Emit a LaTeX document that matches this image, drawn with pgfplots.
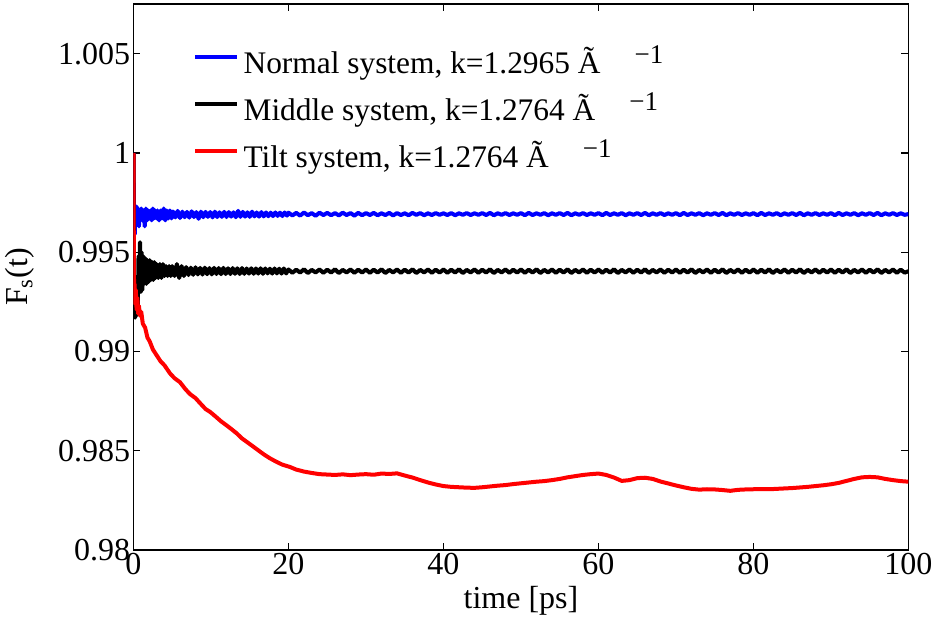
\documentclass[border=0pt]{standalone}
\usepackage{fontspec}
\setmainfont{Liberation Serif}
\usepackage{pgfplots}
\pgfplotsset{compat=1.18}
% inverse-angstrom exponent as set in the legend entries
\newcommand{\invA}{\hspace{17pt}\raisebox{5pt}{\fontsize{13.5}{15}\selectfont −1}\rule{0pt}{17.7pt}}
\begin{document}
\begin{tikzpicture}
\begin{axis}[
  scale only axis, width=387.5pt, height=273pt,
  xmin=0, xmax=100, ymin=0.98, ymax=1.0075,
  xtick={0,20,40,60,80,100}, xticklabels={0,20,40,60,80,100},
  ytick={0.98,0.985,0.99,0.995,1,1.005},
  yticklabels={0.98,0.985,0.99,0.995,1,1.005},
  tick align=inside, major tick length=3.5pt,
  tick style={line width=0.6pt, black},
  axis line style={line width=0.75pt},
  ticklabel style={font=\fontsize{16}{19}\selectfont, inner sep=1.5pt},
  label style={font=\fontsize{16}{19}\selectfont},
  xlabel={time [ps]}, ylabel={F\textsubscript{s}(t)},
  xlabel style={at={(axis description cs:0.5,-0.1075)}, anchor=base},
  ylabel style={at={(axis description cs:-0.147,0.5)}, anchor=center},
  legend style={draw=none, fill=none, inner sep=0pt,
    at={(axis description cs:0,1)}, anchor=north west,
    xshift=29.65pt, yshift=-16.95pt,
    font=\fontsize{15.7}{18}\selectfont,
    nodes={inner sep=0pt}, row sep=4.15pt, column sep=2.2pt},
  legend cell align=left,
  legend image code/.code={\draw[#1, line width=2pt] (0pt,0pt) -- (21pt,0pt);},
  every axis plot/.append style={line width=2pt, line join=round},
]
% Normal system
\addplot[blue] coordinates {
(0,1.0) (0.08,0.9963) (0.16,0.9959) (0.24,0.9972) (0.32,0.9966) (0.4,0.9973) (0.5,0.9965) (0.6,0.9972) (0.7,0.9963) (0.8,0.9971)
(0.9,0.9966) (1.0,0.9972) (1.15,0.9966) (1.3,0.9971) (1.45,0.9963) (1.6,0.9972) (1.75,0.9966) (1.9,0.9971) (2.05,0.9967) (2.2,0.9971)
(2.35,0.9966) (2.5,0.9972) (2.65,0.9967) (2.8,0.9971) (2.95,0.9967) (3.1,0.9971) (3.3,0.9966) (3.5,0.9971) (3.7,0.9967) (3.9,0.9972)
(4.1,0.9966) (4.3,0.9971) (4.5,0.9967) (4.7,0.9971) (4.9,0.9967)
(5.1,0.99705) (5.4,0.99675) (5.7,0.99708) (6.0,0.99672) (6.3,0.99704) (6.6,0.99676) (6.9,0.99703) (7.2,0.99674) (7.5,0.99706) (7.8,0.99677)
(8.1,0.99702) (8.4,0.99668) (8.7,0.99704) (9.0,0.99676) (9.3,0.99703) (9.6,0.99678) (9.9,0.99702) (10.2,0.99675) (10.5,0.99704) (10.8,0.99677)
(11.1,0.99701) (11.4,0.99678) (11.7,0.99703) (12.0,0.99677) (12.3,0.99702) (12.6,0.99679) (12.9,0.99701) (13.2,0.99676) (13.5,0.99708) (13.8,0.99678)
(14.1,0.99703) (14.4,0.99679) (14.7,0.99701) (15.0,0.99678) (15.3,0.99704) (15.6,0.99680) (15.9,0.99700) (16.2,0.99679) (16.5,0.99702) (16.8,0.99680)
(17.1,0.99700) (17.4,0.99681) (17.7,0.99699) (18.0,0.99682) (18.3,0.99700) (18.6,0.99683) (18.9,0.99699) (19.2,0.99682) (19.5,0.99700) (19.8,0.99684)
(20.0,0.99699) (20.5,0.99685) (21.0,0.99698) (21.5,0.99684) (22.0,0.99700) (22.5,0.99686) (23.0,0.99697) (23.5,0.99683) (24.0,0.99699) (24.5,0.99687)
(25.0,0.99698) (25.5,0.99686) (26.0,0.99697) (26.5,0.99685) (27.0,0.99699) (27.5,0.99687) (28.0,0.99697) (28.5,0.99684) (29.0,0.99698) (29.5,0.99686)
(30.0,0.99697) (30.5,0.99687) (31.0,0.99698) (31.5,0.99686) (32.0,0.99696) (32.5,0.99687) (33.0,0.99698) (33.5,0.99685) (34.0,0.99697) (34.5,0.99687)
(35.0,0.99696) (35.5,0.99686) (36.0,0.99698) (36.5,0.99688) (37.0,0.99697) (37.5,0.99686) (38.0,0.99696) (38.5,0.99687) (39.0,0.99697) (39.5,0.99688)
(40.0,0.99696) (40.5,0.99687) (41.0,0.99697) (41.5,0.99686) (42.0,0.99696) (42.5,0.99688) (43.0,0.99697) (43.5,0.99687) (44.0,0.99696) (44.5,0.99688)
(45.0,0.99697) (45.5,0.99687) (46.0,0.99698) (46.5,0.99686) (47.0,0.99696) (47.5,0.99688) (48.0,0.99697) (48.5,0.99687) (49.0,0.99696) (49.5,0.99688)
(50.0,0.99697) (50.5,0.99686) (51.0,0.99698) (51.5,0.99687) (52.0,0.99696) (52.5,0.99688) (53.0,0.99697) (53.5,0.99686) (54.0,0.99696) (54.5,0.99688)
(55.0,0.99697) (55.5,0.99687) (56.0,0.99698) (56.5,0.99686) (57.0,0.99696) (57.5,0.99688) (58.0,0.99697) (58.5,0.99687) (59.0,0.99696) (59.5,0.99688)
(60.0,0.99697) (60.5,0.99686) (61.0,0.99698) (61.5,0.99687) (62.0,0.99696) (62.5,0.99688) (63.0,0.99697) (63.5,0.99686) (64.0,0.99696) (64.5,0.99688)
(65.0,0.99697) (65.5,0.99687) (66.0,0.99698) (66.5,0.99686) (67.0,0.99696) (67.5,0.99688) (68.0,0.99697) (68.5,0.99687) (69.0,0.99696) (69.5,0.99688)
(70.0,0.99697) (70.5,0.99686) (71.0,0.99698) (71.5,0.99687) (72.0,0.99696) (72.5,0.99688) (73.0,0.99697) (73.5,0.99686) (74.0,0.99696) (74.5,0.99688)
(75.0,0.99697) (75.5,0.99687) (76.0,0.99698) (76.5,0.99686) (77.0,0.99696) (77.5,0.99688) (78.0,0.99697) (78.5,0.99687) (79.0,0.99696) (79.5,0.99688)
(80.0,0.99697) (80.5,0.99686) (81.0,0.99698) (81.5,0.99687) (82.0,0.99696) (82.5,0.99688) (83.0,0.99697) (83.5,0.99686) (84.0,0.99696) (84.5,0.99688)
(85.0,0.99697) (85.5,0.99687) (86.0,0.99698) (86.5,0.99686) (87.0,0.99696) (87.5,0.99688) (88.0,0.99697) (88.5,0.99687) (89.0,0.99696) (89.5,0.99688)
(90.0,0.99697) (90.5,0.99686) (91.0,0.99698) (91.5,0.99687) (92.0,0.99696) (92.5,0.99688) (93.0,0.99697) (93.5,0.99686) (94.0,0.99696) (94.5,0.99688)
(95.0,0.99697) (95.5,0.99687) (96.0,0.99698) (96.5,0.99686) (97.0,0.99696) (97.5,0.99688) (98.0,0.99697) (98.5,0.99687) (99.0,0.99696) (99.5,0.99688)
(100,0.99692)
};
\addlegendentry{Normal system, k=1.2965 Ã\invA}
% Middle system
\addplot[black] coordinates {
(0,1.0) (0.06,0.9930) (0.12,0.9920) (0.2,0.9917) (0.28,0.9925) (0.36,0.9918) (0.45,0.9935) (0.55,0.9922) (0.65,0.9948) (0.75,0.9932)
(0.84,0.9955) (0.95,0.9930) (1.05,0.9950) (1.15,0.9931) (1.25,0.9948) (1.35,0.9934) (1.5,0.9947) (1.65,0.9934) (1.8,0.9946) (1.95,0.9935)
(2.1,0.9946) (2.25,0.9936) (2.4,0.9945) (2.55,0.9936) (2.7,0.9945) (2.85,0.9937) (3.0,0.9944) (3.2,0.9937) (3.4,0.9944) (3.6,0.9937)
(3.8,0.9944) (4.0,0.9938) (4.2,0.9943) (4.4,0.9938) (4.6,0.9943) (4.8,0.9938) (5.0,0.9943) (5.3,0.9938) (5.6,0.9944) (5.9,0.9937)
(6.2,0.9943) (6.5,0.9938) (6.8,0.99425) (7.1,0.99385) (7.4,0.99422) (7.7,0.99386) (8.0,0.99424) (8.3,0.99388) (8.6,0.99421) (8.9,0.99387)
(9.2,0.99422) (9.5,0.99389) (9.8,0.99420) (10.1,0.99388) (10.4,0.99421) (10.7,0.99390) (11.0,0.99420) (11.3,0.99389) (11.6,0.99421) (11.9,0.99390)
(12.2,0.99419) (12.5,0.99390) (12.8,0.99420) (13.1,0.99391) (13.4,0.99419) (13.7,0.99390) (14.0,0.99420) (14.3,0.99391) (14.6,0.99418) (14.9,0.99392)
(15.2,0.99419) (15.5,0.99391) (15.8,0.99418) (16.1,0.99392) (16.4,0.99419) (16.7,0.99391) (17.0,0.99418) (17.3,0.99393) (17.6,0.99417) (17.9,0.99392)
(18.2,0.99418) (18.5,0.99393) (18.8,0.99417) (19.1,0.99392) (19.4,0.99418) (19.7,0.99393)
(20.0,0.99413) (20.5,0.99396) (21.0,0.99412) (21.5,0.99397) (22.0,0.99414) (22.5,0.99395) (23.0,0.99411) (23.5,0.99398) (24.0,0.99413) (24.5,0.99396)
(25.0,0.99412) (25.5,0.99397) (26.0,0.99414) (26.5,0.99395) (27.0,0.99411) (27.5,0.99398) (28.0,0.99413) (28.5,0.99396) (29.0,0.99412) (29.5,0.99397)
(30.0,0.99413) (30.5,0.99396) (31.0,0.99412) (31.5,0.99397) (32.0,0.99414) (32.5,0.99395) (33.0,0.99411) (33.5,0.99398) (34.0,0.99413) (34.5,0.99396)
(35.0,0.99412) (35.5,0.99397) (36.0,0.99414) (36.5,0.99395) (37.0,0.99411) (37.5,0.99398) (38.0,0.99413) (38.5,0.99396) (39.0,0.99412) (39.5,0.99397)
(40.0,0.99413) (40.5,0.99396) (41.0,0.99412) (41.5,0.99397) (42.0,0.99414) (42.5,0.99395) (43.0,0.99411) (43.5,0.99398) (44.0,0.99413) (44.5,0.99396)
(45.0,0.99412) (45.5,0.99397) (46.0,0.99414) (46.5,0.99395) (47.0,0.99411) (47.5,0.99398) (48.0,0.99413) (48.5,0.99396) (49.0,0.99412) (49.5,0.99397)
(50.0,0.99413) (50.5,0.99396) (51.0,0.99412) (51.5,0.99397) (52.0,0.99414) (52.5,0.99395) (53.0,0.99411) (53.5,0.99398) (54.0,0.99413) (54.5,0.99396)
(55.0,0.99412) (55.5,0.99397) (56.0,0.99414) (56.5,0.99395) (57.0,0.99411) (57.5,0.99398) (58.0,0.99413) (58.5,0.99396) (59.0,0.99412) (59.5,0.99397)
(60.0,0.99413) (60.5,0.99396) (61.0,0.99412) (61.5,0.99397) (62.0,0.99414) (62.5,0.99395) (63.0,0.99411) (63.5,0.99398) (64.0,0.99413) (64.5,0.99396)
(65.0,0.99412) (65.5,0.99397) (66.0,0.99414) (66.5,0.99395) (67.0,0.99411) (67.5,0.99398) (68.0,0.99413) (68.5,0.99396) (69.0,0.99412) (69.5,0.99397)
(70.0,0.99413) (70.5,0.99396) (71.0,0.99412) (71.5,0.99397) (72.0,0.99414) (72.5,0.99395) (73.0,0.99411) (73.5,0.99398) (74.0,0.99413) (74.5,0.99396)
(75.0,0.99412) (75.5,0.99397) (76.0,0.99414) (76.5,0.99395) (77.0,0.99411) (77.5,0.99398) (78.0,0.99413) (78.5,0.99396) (79.0,0.99412) (79.5,0.99397)
(80.0,0.99413) (80.5,0.99396) (81.0,0.99412) (81.5,0.99397) (82.0,0.99414) (82.5,0.99395) (83.0,0.99411) (83.5,0.99398) (84.0,0.99413) (84.5,0.99396)
(85.0,0.99412) (85.5,0.99397) (86.0,0.99414) (86.5,0.99395) (87.0,0.99411) (87.5,0.99398) (88.0,0.99413) (88.5,0.99396) (89.0,0.99412) (89.5,0.99397)
(90.0,0.99413) (90.5,0.99396) (91.0,0.99412) (91.5,0.99397) (92.0,0.99414) (92.5,0.99395) (93.0,0.99411) (93.5,0.99398) (94.0,0.99413) (94.5,0.99396)
(95.0,0.99412) (95.5,0.99397) (96.0,0.99414) (96.5,0.99395) (97.0,0.99411) (97.5,0.99398) (98.0,0.99413) (98.5,0.99396) (99.0,0.99412) (99.5,0.99397)
(100,0.99404)
};
\addlegendentry{Middle system, k=1.2764 Ã\invA}
% Tilt system
\addplot[red] coordinates {
(0,1.0) (0.05,0.9940) (0.1,0.9928) (0.15,0.9934) (0.2,0.9924) (0.3,0.9931) (0.4,0.9921) (0.5,0.9927) (0.6,0.9919) (0.7,0.9923)
(0.84,0.9918) (1.0,0.9920) (1.2,0.9914) (1.5,0.9912) (1.8,0.9907) (2.1,0.9905) (2.5,0.9901) (3.0,0.9898) (3.5,0.9895) (4.0,0.9893)
(4.7,0.9889) (5.3,0.98865) (6.0,0.98845) (6.7,0.9881) (7.3,0.98785) (8.0,0.98765) (8.7,0.98735) (9.3,0.9871) (9.9,0.98695) (10.6,0.98672)
(11.3,0.98648) (12.0,0.98628) (12.6,0.9861) (13.3,0.98588) (14.0,0.98562) (14.6,0.98545) (15.2,0.98528) (16.0,0.98505) (16.8,0.98482) (17.6,0.98462)
(18.4,0.98445) (19.2,0.9843) (20.2,0.98418) (21.0,0.98405) (22.0,0.98395) (23.0,0.98388) (24.0,0.98382) (25.0,0.9838) (26,0.98378) (27,0.98381)
(28,0.98377) (29,0.9838) (30,0.98382) (31,0.98379) (32,0.98385) (33,0.98383) (34,0.98386) (35,0.98375) (36,0.98365) (37,0.98352)
(38,0.9834) (39,0.9833) (40,0.98322) (41,0.98318) (42,0.98316) (43,0.98314) (44,0.98313) (45,0.98316) (46,0.9832) (47,0.98324)
(48,0.98327) (49,0.98332) (50,0.98336) (51,0.9834) (52,0.98344) (53,0.98347) (54,0.98352) (55,0.98358) (56,0.98366) (57,0.98372)
(58,0.98378) (59,0.98382) (60,0.98385) (61,0.98378) (62,0.98365) (63,0.98348) (64,0.98352) (65,0.98362) (66,0.98364) (67,0.98358)
(68,0.98345) (69,0.98335) (70,0.98325) (71,0.98316) (72,0.98308) (73,0.98304) (74,0.98306) (75,0.98305) (76,0.98302) (77,0.98298)
(78,0.98303) (79,0.98305) (80,0.98306) (81,0.98307) (82,0.98306) (83,0.98308) (84,0.9831) (85,0.98312) (86,0.98315) (87,0.98318)
(88,0.98322) (89,0.98326) (90,0.98331) (91,0.98338) (92,0.98348) (93,0.98358) (94,0.98366) (95,0.98368) (96,0.98366) (97,0.98358)
(98,0.98352) (99,0.98347) (100,0.98344)
};
\addlegendentry{Tilt system, k=1.2764 Ã\invA}
\end{axis}
\pgfresetboundingbox
\path[use as bounding box] (-66.75pt,-33.5pt) rectangle (400.25pt,275pt);
\end{tikzpicture}
\end{document}
